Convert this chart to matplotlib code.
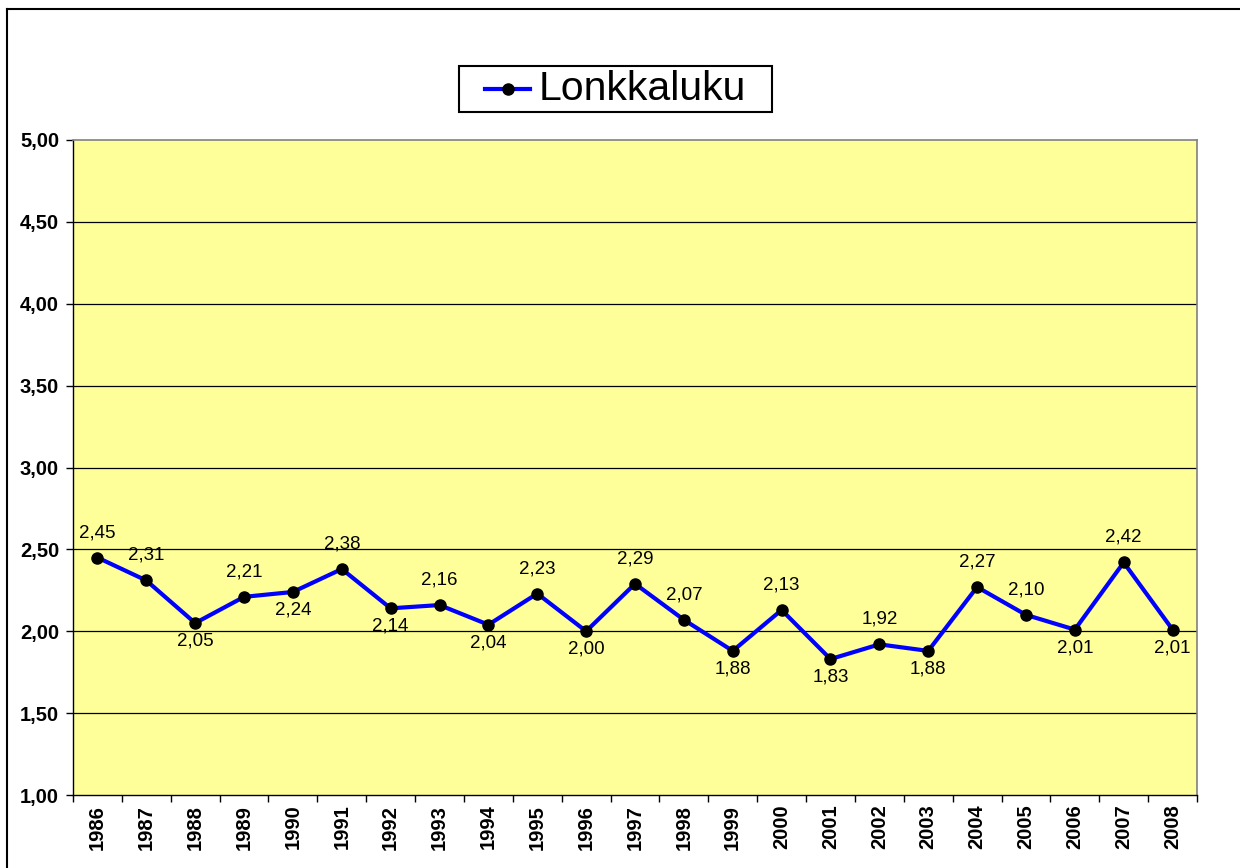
import matplotlib
matplotlib.use("Agg")
import matplotlib.pyplot as plt
from matplotlib.lines import Line2D
from matplotlib.patches import Rectangle

plt.rcParams['font.family'] = ['Liberation Sans', 'DejaVu Sans']

years = [str(y) for y in range(1986, 2009)]
values = [2.45, 2.31, 2.05, 2.21, 2.24, 2.38, 2.14, 2.16, 2.04, 2.23, 2.00,
          2.29, 2.07, 1.88, 2.13, 1.83, 1.92, 1.88, 2.27, 2.10, 2.01, 2.42, 2.01]
label_above = [True, True, False, True, False, True, False, True, False, True, False,
               True, True, False, True, False, True, False, True, True, False, True, False]
series_name = "Lonkkaluku"
y_ticks = [1.0, 1.5, 2.0, 2.5, 3.0, 3.5, 4.0, 4.5, 5.0]

def fmt(v):
    return f"{v:.2f}".replace(".", ",")

W, H = 1240, 868
fig = plt.figure(figsize=(W / 100, H / 100), dpi=100)
fig.patch.set_facecolor('white')

# figure frame (top and left visible)
fig.add_artist(Line2D([7 / W, 7 / W], [0, 1 - 9 / H], transform=fig.transFigure, color='black', lw=1.5))
fig.add_artist(Line2D([7 / W, 1], [1 - 9 / H, 1 - 9 / H], transform=fig.transFigure, color='black', lw=1.5))

ax = fig.add_axes([73 / W, 1 - 795 / H, (1197 - 73) / W, (795 - 140) / H])
ax.set_facecolor('#FFFF99')

n = len(years)
x = list(range(n))
ax.set_xlim(-0.5, n - 0.5)
ax.set_ylim(1.0, 5.0)

for yv in y_ticks[1:-1]:
    ax.axhline(yv, color='black', lw=0.9, zorder=1)

ax.plot(x, values, color='#0000FF', lw=3, marker='o', markersize=8,
        markerfacecolor='black', markeredgecolor='black', zorder=3)

for xi, v, up in zip(x, values, label_above):
    if up:
        ax.annotate(fmt(v), (xi, v), xytext=(0, 18), textcoords='offset points',
                    ha='center', va='center', fontsize=13.5, color='black', zorder=4)
    else:
        ax.annotate(fmt(v), (xi, v), xytext=(0, -13), textcoords='offset points',
                    ha='center', va='center', fontsize=13.5, color='black', zorder=4)

ax.set_yticks(y_ticks)
ax.set_yticklabels([fmt(v) for v in y_ticks], fontsize=14.5, fontweight='bold')
ax.tick_params(axis='y', direction='out', length=5, width=1, pad=5)

ax.set_xticks([i - 0.5 for i in range(n + 1)])
ax.set_xticklabels([])
ax.set_xticks(x, minor=True)
ax.set_xticklabels(years, minor=True, rotation=90, fontsize=14.5, fontweight='bold')
ax.tick_params(axis='x', which='major', direction='out', length=5, width=1)
ax.tick_params(axis='x', which='minor', length=0, pad=7)

for s in ['left', 'bottom']:
    ax.spines[s].set_color('black')
    ax.spines[s].set_linewidth(1)
for s in ['top', 'right']:
    ax.spines[s].set_color('#808080')
    ax.spines[s].set_linewidth(1.2)

# legend
lx0, lx1, ly0, ly1 = 459, 772, 66, 112
fig.add_artist(Rectangle((lx0 / W, 1 - ly1 / H), (lx1 - lx0) / W, (ly1 - ly0) / H,
                         transform=fig.transFigure, facecolor='white', edgecolor='black', lw=1.5))
ym = 1 - 89 / H
fig.add_artist(Line2D([485 / W, 530 / W], [ym, ym], transform=fig.transFigure, color='#0000FF', lw=3))
fig.add_artist(Line2D([507.5 / W], [ym], transform=fig.transFigure, marker='o', markersize=8,
                      color='black', lw=0))
fig.text(539 / W, ym, series_name, fontsize=29.5, va='center', ha='left', color='black')

fig.savefig('out.png', dpi=100, facecolor='white')
